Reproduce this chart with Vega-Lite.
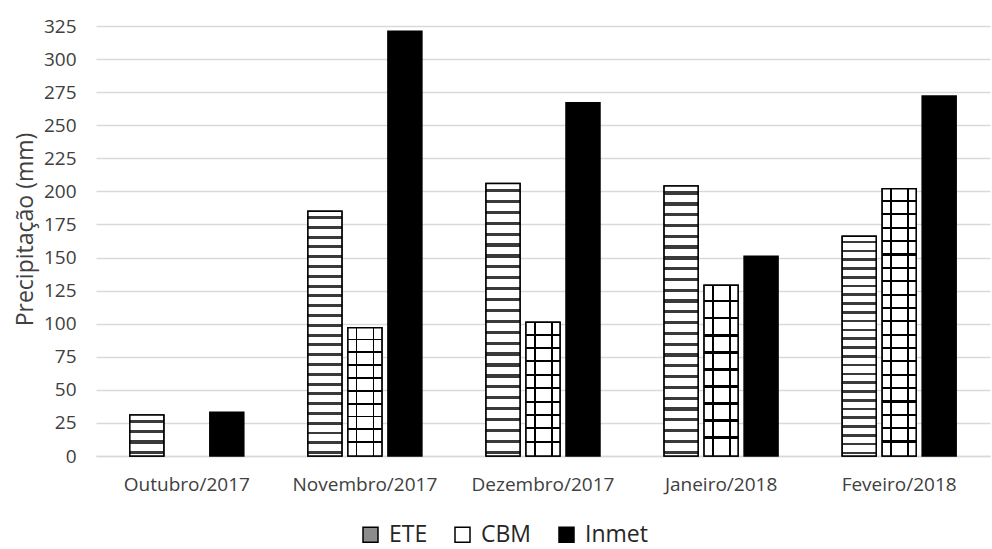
{
  "$schema": "https://vega.github.io/schema/vega-lite/v6.json",
  "autosize": "none",
  "width": 894,
  "height": 430,
  "padding": {"left": 96, "top": 26, "right": 2, "bottom": 93},
  "background": "white",
  "config": {
    "font": "Open Sans",
    "view": {"stroke": null},
    "axis": {"labelFont": "Open Sans", "titleFont": "Open Sans", "labelColor": "#404040", "titleColor": "#404040", "titleFontWeight": "normal"},
    "legend": {"labelFont": "Open Sans", "labelColor": "#262626"}
  },
  "data": {
    "values": [
      {"month": "Outubro/2017", "series": "ETE", "value": 31},
      {"month": "Outubro/2017", "series": "CBM", "value": 0},
      {"month": "Outubro/2017", "series": "Inmet", "value": 33},
      {"month": "Novembro/2017", "series": "ETE", "value": 185},
      {"month": "Novembro/2017", "series": "CBM", "value": 97},
      {"month": "Novembro/2017", "series": "Inmet", "value": 321},
      {"month": "Dezembro/2017", "series": "ETE", "value": 206},
      {"month": "Dezembro/2017", "series": "CBM", "value": 101},
      {"month": "Dezembro/2017", "series": "Inmet", "value": 267},
      {"month": "Janeiro/2018", "series": "ETE", "value": 204},
      {"month": "Janeiro/2018", "series": "CBM", "value": 129},
      {"month": "Janeiro/2018", "series": "Inmet", "value": 151},
      {"month": "Feveiro/2018", "series": "ETE", "value": 166},
      {"month": "Feveiro/2018", "series": "CBM", "value": 202},
      {"month": "Feveiro/2018", "series": "Inmet", "value": 272}
    ]
  },
  "encoding": {
    "x": {
      "field": "month",
      "type": "nominal",
      "sort": ["Outubro/2017", "Novembro/2017", "Dezembro/2017", "Janeiro/2018", "Feveiro/2018"],
      "scale": {"paddingInner": 0.36, "paddingOuter": 0.19},
      "axis": {"title": null, "labelAngle": 0, "labelFontSize": 19, "labelPadding": 19, "ticks": false, "domainColor": "#d9d9d9", "domainWidth": 1.5, "grid": false}
    },
    "xOffset": {
      "field": "series",
      "type": "nominal",
      "scale": {"domain": ["ETE", "CBM", "Inmet"], "paddingInner": 0.15, "paddingOuter": 0}
    },
    "y": {
      "field": "value",
      "type": "quantitative",
      "scale": {"domain": [0, 325], "nice": false},
      "axis": {
        "title": "Precipitação (mm)",
        "titleFontSize": 23,
        "titlePadding": 6,
        "titleY": 203,
        "values": [0, 25, 50, 75, 100, 125, 150, 175, 200, 225, 250, 275, 300, 325],
        "labelFontSize": 19,
        "labelPadding": 20,
        "ticks": false,
        "tickSize": 0,
        "domain": false,
        "gridColor": "#d9d9d9",
        "gridWidth": 1.5
      }
    }
  },
  "layer": [
    {
      "mark": {"type": "bar", "stroke": "black", "strokeWidth": 1.5},
      "transform": [{"filter": "datum.value > 0"}],
      "encoding": {
        "color": {
          "field": "series",
          "type": "nominal",
          "scale": {"domain": ["ETE", "CBM", "Inmet"], "range": ["#8c8c8c", "#ffffff", "#000000"]},
          "legend": {
            "title": null,
            "orient": "none",
            "direction": "horizontal",
            "legendX": 263,
            "legendY": 497,
            "symbolType": "square",
            "symbolSize": 225,
            "symbolStrokeColor": "black",
            "symbolStrokeWidth": 1.5,
            "symbolOpacity": 1,
            "labelFontSize": 23,
            "labelOffset": 7,
            "columnPadding": 23
          }
        }
      }
    },
    {
      "mark": {"type": "bar", "stroke": "black", "strokeWidth": 1.5},
      "transform": [{"filter": "datum.series === 'ETE'"}],
      "encoding": {
        "fill": {
          "condition": {
            "test": "datum.value < 100",
            "value": {
              "gradient": "linear", "x1": 0, "y1": 0, "x2": 0, "y2": 1,
              "stops": [
                {"offset": 0, "color": "white"},
                {"offset": 0.12, "color": "white"}, {"offset": 0.12, "color": "#3a3a3a"}, {"offset": 0.2, "color": "#3a3a3a"}, {"offset": 0.2, "color": "white"},
                {"offset": 0.37, "color": "white"}, {"offset": 0.37, "color": "#3a3a3a"}, {"offset": 0.45, "color": "#3a3a3a"}, {"offset": 0.45, "color": "white"},
                {"offset": 0.62, "color": "white"}, {"offset": 0.62, "color": "#3a3a3a"}, {"offset": 0.7, "color": "#3a3a3a"}, {"offset": 0.7, "color": "white"},
                {"offset": 0.87, "color": "white"}, {"offset": 0.87, "color": "#3a3a3a"}, {"offset": 0.95, "color": "#3a3a3a"}, {"offset": 0.95, "color": "white"},
                {"offset": 1, "color": "white"}
              ]
            }
          },
          "value": {
            "gradient": "linear", "x1": 0, "y1": 0, "x2": 0, "y2": 1,
            "stops": [
              {"offset": 0, "color": "white"},
              {"offset": 0.02, "color": "white"}, {"offset": 0.02, "color": "#3a3a3a"}, {"offset": 0.032, "color": "#3a3a3a"}, {"offset": 0.032, "color": "white"},
              {"offset": 0.06, "color": "white"}, {"offset": 0.06, "color": "#3a3a3a"}, {"offset": 0.072, "color": "#3a3a3a"}, {"offset": 0.072, "color": "white"},
              {"offset": 0.10, "color": "white"}, {"offset": 0.10, "color": "#3a3a3a"}, {"offset": 0.112, "color": "#3a3a3a"}, {"offset": 0.112, "color": "white"},
              {"offset": 0.14, "color": "white"}, {"offset": 0.14, "color": "#3a3a3a"}, {"offset": 0.152, "color": "#3a3a3a"}, {"offset": 0.152, "color": "white"},
              {"offset": 0.18, "color": "white"}, {"offset": 0.18, "color": "#3a3a3a"}, {"offset": 0.192, "color": "#3a3a3a"}, {"offset": 0.192, "color": "white"},
              {"offset": 0.22, "color": "white"}, {"offset": 0.22, "color": "#3a3a3a"}, {"offset": 0.232, "color": "#3a3a3a"}, {"offset": 0.232, "color": "white"},
              {"offset": 0.26, "color": "white"}, {"offset": 0.26, "color": "#3a3a3a"}, {"offset": 0.272, "color": "#3a3a3a"}, {"offset": 0.272, "color": "white"},
              {"offset": 0.30, "color": "white"}, {"offset": 0.30, "color": "#3a3a3a"}, {"offset": 0.312, "color": "#3a3a3a"}, {"offset": 0.312, "color": "white"},
              {"offset": 0.34, "color": "white"}, {"offset": 0.34, "color": "#3a3a3a"}, {"offset": 0.352, "color": "#3a3a3a"}, {"offset": 0.352, "color": "white"},
              {"offset": 0.38, "color": "white"}, {"offset": 0.38, "color": "#3a3a3a"}, {"offset": 0.392, "color": "#3a3a3a"}, {"offset": 0.392, "color": "white"},
              {"offset": 0.42, "color": "white"}, {"offset": 0.42, "color": "#3a3a3a"}, {"offset": 0.432, "color": "#3a3a3a"}, {"offset": 0.432, "color": "white"},
              {"offset": 0.46, "color": "white"}, {"offset": 0.46, "color": "#3a3a3a"}, {"offset": 0.472, "color": "#3a3a3a"}, {"offset": 0.472, "color": "white"},
              {"offset": 0.50, "color": "white"}, {"offset": 0.50, "color": "#3a3a3a"}, {"offset": 0.512, "color": "#3a3a3a"}, {"offset": 0.512, "color": "white"},
              {"offset": 0.54, "color": "white"}, {"offset": 0.54, "color": "#3a3a3a"}, {"offset": 0.552, "color": "#3a3a3a"}, {"offset": 0.552, "color": "white"},
              {"offset": 0.58, "color": "white"}, {"offset": 0.58, "color": "#3a3a3a"}, {"offset": 0.592, "color": "#3a3a3a"}, {"offset": 0.592, "color": "white"},
              {"offset": 0.62, "color": "white"}, {"offset": 0.62, "color": "#3a3a3a"}, {"offset": 0.632, "color": "#3a3a3a"}, {"offset": 0.632, "color": "white"},
              {"offset": 0.66, "color": "white"}, {"offset": 0.66, "color": "#3a3a3a"}, {"offset": 0.672, "color": "#3a3a3a"}, {"offset": 0.672, "color": "white"},
              {"offset": 0.70, "color": "white"}, {"offset": 0.70, "color": "#3a3a3a"}, {"offset": 0.712, "color": "#3a3a3a"}, {"offset": 0.712, "color": "white"},
              {"offset": 0.74, "color": "white"}, {"offset": 0.74, "color": "#3a3a3a"}, {"offset": 0.752, "color": "#3a3a3a"}, {"offset": 0.752, "color": "white"},
              {"offset": 0.78, "color": "white"}, {"offset": 0.78, "color": "#3a3a3a"}, {"offset": 0.792, "color": "#3a3a3a"}, {"offset": 0.792, "color": "white"},
              {"offset": 0.82, "color": "white"}, {"offset": 0.82, "color": "#3a3a3a"}, {"offset": 0.832, "color": "#3a3a3a"}, {"offset": 0.832, "color": "white"},
              {"offset": 0.86, "color": "white"}, {"offset": 0.86, "color": "#3a3a3a"}, {"offset": 0.872, "color": "#3a3a3a"}, {"offset": 0.872, "color": "white"},
              {"offset": 0.90, "color": "white"}, {"offset": 0.90, "color": "#3a3a3a"}, {"offset": 0.912, "color": "#3a3a3a"}, {"offset": 0.912, "color": "white"},
              {"offset": 0.94, "color": "white"}, {"offset": 0.94, "color": "#3a3a3a"}, {"offset": 0.952, "color": "#3a3a3a"}, {"offset": 0.952, "color": "white"},
              {"offset": 0.98, "color": "white"}, {"offset": 0.98, "color": "#3a3a3a"}, {"offset": 0.992, "color": "#3a3a3a"}, {"offset": 0.992, "color": "white"},
              {"offset": 1, "color": "white"}
            ]
          }
        }
      }
    },
    {
      "mark": {"type": "bar", "stroke": "black", "strokeWidth": 1.5},
      "transform": [{"filter": "datum.series === 'CBM' && datum.value > 0"}],
      "encoding": {
        "fill": {
          "condition": {
            "test": "datum.value > 150",
            "value": {
              "gradient": "linear", "x1": 0, "y1": 0, "x2": 0, "y2": 1,
              "stops": [
                {"offset": 0, "color": "white"},
                {"offset": 0.042, "color": "white"}, {"offset": 0.042, "color": "black"}, {"offset": 0.05, "color": "black"}, {"offset": 0.05, "color": "white"},
                {"offset": 0.092, "color": "white"}, {"offset": 0.092, "color": "black"}, {"offset": 0.1, "color": "black"}, {"offset": 0.1, "color": "white"},
                {"offset": 0.142, "color": "white"}, {"offset": 0.142, "color": "black"}, {"offset": 0.15, "color": "black"}, {"offset": 0.15, "color": "white"},
                {"offset": 0.192, "color": "white"}, {"offset": 0.192, "color": "black"}, {"offset": 0.2, "color": "black"}, {"offset": 0.2, "color": "white"},
                {"offset": 0.242, "color": "white"}, {"offset": 0.242, "color": "black"}, {"offset": 0.25, "color": "black"}, {"offset": 0.25, "color": "white"},
                {"offset": 0.292, "color": "white"}, {"offset": 0.292, "color": "black"}, {"offset": 0.3, "color": "black"}, {"offset": 0.3, "color": "white"},
                {"offset": 0.342, "color": "white"}, {"offset": 0.342, "color": "black"}, {"offset": 0.35, "color": "black"}, {"offset": 0.35, "color": "white"},
                {"offset": 0.392, "color": "white"}, {"offset": 0.392, "color": "black"}, {"offset": 0.4, "color": "black"}, {"offset": 0.4, "color": "white"},
                {"offset": 0.442, "color": "white"}, {"offset": 0.442, "color": "black"}, {"offset": 0.45, "color": "black"}, {"offset": 0.45, "color": "white"},
                {"offset": 0.492, "color": "white"}, {"offset": 0.492, "color": "black"}, {"offset": 0.5, "color": "black"}, {"offset": 0.5, "color": "white"},
                {"offset": 0.542, "color": "white"}, {"offset": 0.542, "color": "black"}, {"offset": 0.55, "color": "black"}, {"offset": 0.55, "color": "white"},
                {"offset": 0.592, "color": "white"}, {"offset": 0.592, "color": "black"}, {"offset": 0.6, "color": "black"}, {"offset": 0.6, "color": "white"},
                {"offset": 0.642, "color": "white"}, {"offset": 0.642, "color": "black"}, {"offset": 0.65, "color": "black"}, {"offset": 0.65, "color": "white"},
                {"offset": 0.692, "color": "white"}, {"offset": 0.692, "color": "black"}, {"offset": 0.7, "color": "black"}, {"offset": 0.7, "color": "white"},
                {"offset": 0.742, "color": "white"}, {"offset": 0.742, "color": "black"}, {"offset": 0.75, "color": "black"}, {"offset": 0.75, "color": "white"},
                {"offset": 0.792, "color": "white"}, {"offset": 0.792, "color": "black"}, {"offset": 0.8, "color": "black"}, {"offset": 0.8, "color": "white"},
                {"offset": 0.842, "color": "white"}, {"offset": 0.842, "color": "black"}, {"offset": 0.85, "color": "black"}, {"offset": 0.85, "color": "white"},
                {"offset": 0.892, "color": "white"}, {"offset": 0.892, "color": "black"}, {"offset": 0.9, "color": "black"}, {"offset": 0.9, "color": "white"},
                {"offset": 0.942, "color": "white"}, {"offset": 0.942, "color": "black"}, {"offset": 0.95, "color": "black"}, {"offset": 0.95, "color": "white"},
                {"offset": 1, "color": "white"}
              ]
            }
          },
          "value": {
            "gradient": "linear", "x1": 0, "y1": 0, "x2": 0, "y2": 1,
            "stops": [
              {"offset": 0, "color": "white"},
              {"offset": 0.085, "color": "white"}, {"offset": 0.085, "color": "black"}, {"offset": 0.1, "color": "black"}, {"offset": 0.1, "color": "white"},
              {"offset": 0.185, "color": "white"}, {"offset": 0.185, "color": "black"}, {"offset": 0.2, "color": "black"}, {"offset": 0.2, "color": "white"},
              {"offset": 0.285, "color": "white"}, {"offset": 0.285, "color": "black"}, {"offset": 0.3, "color": "black"}, {"offset": 0.3, "color": "white"},
              {"offset": 0.385, "color": "white"}, {"offset": 0.385, "color": "black"}, {"offset": 0.4, "color": "black"}, {"offset": 0.4, "color": "white"},
              {"offset": 0.485, "color": "white"}, {"offset": 0.485, "color": "black"}, {"offset": 0.5, "color": "black"}, {"offset": 0.5, "color": "white"},
              {"offset": 0.585, "color": "white"}, {"offset": 0.585, "color": "black"}, {"offset": 0.6, "color": "black"}, {"offset": 0.6, "color": "white"},
              {"offset": 0.685, "color": "white"}, {"offset": 0.685, "color": "black"}, {"offset": 0.7, "color": "black"}, {"offset": 0.7, "color": "white"},
              {"offset": 0.785, "color": "white"}, {"offset": 0.785, "color": "black"}, {"offset": 0.8, "color": "black"}, {"offset": 0.8, "color": "white"},
              {"offset": 0.885, "color": "white"}, {"offset": 0.885, "color": "black"}, {"offset": 0.9, "color": "black"}, {"offset": 0.9, "color": "white"},
              {"offset": 1, "color": "white"}
            ]
          }
        }
      }
    },
    {
      "mark": {
        "type": "bar",
        "fill": {
          "gradient": "linear", "x1": 0, "y1": 0, "x2": 1, "y2": 0,
          "stops": [
            {"offset": 0, "color": "rgba(0,0,0,0)"},
            {"offset": 0.23, "color": "rgba(0,0,0,0)"}, {"offset": 0.23, "color": "black"}, {"offset": 0.28, "color": "black"}, {"offset": 0.28, "color": "rgba(0,0,0,0)"},
            {"offset": 0.73, "color": "rgba(0,0,0,0)"}, {"offset": 0.73, "color": "black"}, {"offset": 0.78, "color": "black"}, {"offset": 0.78, "color": "rgba(0,0,0,0)"},
            {"offset": 1, "color": "rgba(0,0,0,0)"}
          ]
        }
      },
      "transform": [{"filter": "datum.series === 'CBM' && datum.value > 0"}],
      "encoding": {}
    }
  ]
}
